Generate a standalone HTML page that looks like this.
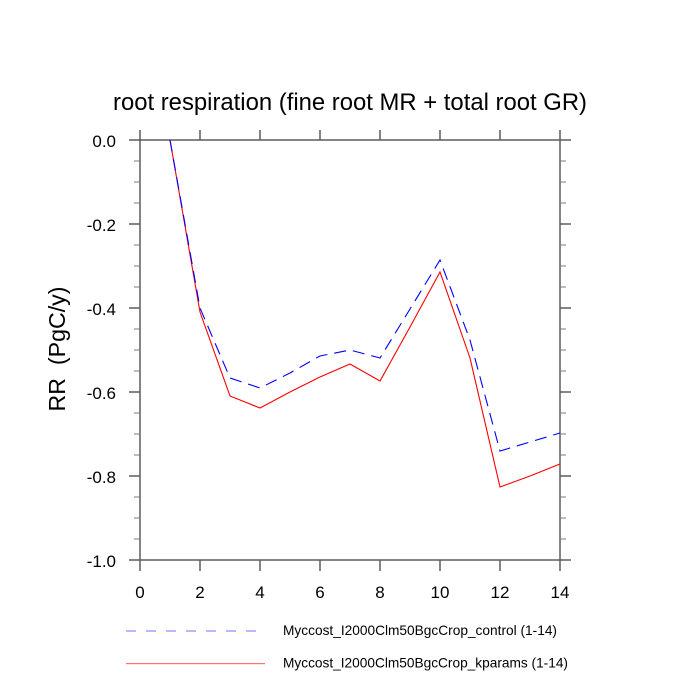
<!DOCTYPE html>
<html>
<head>
<meta charset="utf-8">
<style>
html,body{margin:0;padding:0;background:#fff;}
svg{display:block;}
text{font-family:"Liberation Sans",Arial,sans-serif;fill:#000;}
</style>
</head>
<body>
<svg width="700" height="700" viewBox="0 0 700 700" xmlns="http://www.w3.org/2000/svg">
<rect width="700" height="700" fill="#fff"/>
<!-- title -->
<text x="350" y="110" font-size="24" text-anchor="middle" textLength="474" lengthAdjust="spacingAndGlyphs">root respiration (fine root MR + total root GR)</text>
<!-- y label -->
<text transform="translate(65,349) rotate(-90)" font-size="23" text-anchor="middle" textLength="125" lengthAdjust="spacingAndGlyphs">RR&#160;&#160;(PgC/y)</text>

<g stroke="#5c5c5c" stroke-width="1.5" fill="none">
<rect x="140" y="140" width="420" height="420"/>
<path d="M140 560v11M200 560v11M260 560v11M320 560v11M380 560v11M440 560v11M500 560v11M560 560v11"/>
<path d="M140 140v-10M200 140v-10M260 140v-10M320 140v-10M380 140v-10M440 140v-10M500 140v-10M560 140v-10"/>
<path d="M140 140h-11M140 224h-11M140 308h-11M140 392h-11M140 476h-11M140 560h-11"/>
<path d="M560 140h11M560 224h11M560 308h11M560 392h11M560 476h11M560 560h11"/>
</g>
<g stroke="#7a7a7a" stroke-width="1" fill="none">
<path d="M140 161h-6M140 182h-6M140 203h-6M140 245h-6M140 266h-6M140 287h-6M140 329h-6M140 350h-6M140 371h-6M140 413h-6M140 434h-6M140 455h-6M140 497h-6M140 518h-6M140 539h-6"/>
<path d="M560 161h6M560 182h6M560 203h6M560 245h6M560 266h6M560 287h6M560 329h6M560 350h6M560 371h6M560 413h6M560 434h6M560 455h6M560 497h6M560 518h6M560 539h6"/>
</g>

<g font-size="17" text-anchor="end">
<text x="116" y="147">0.0</text>
<text x="116" y="231">-0.2</text>
<text x="116" y="315">-0.4</text>
<text x="116" y="399">-0.6</text>
<text x="116" y="483">-0.8</text>
<text x="116" y="567">-1.0</text>
</g>
<g font-size="17" text-anchor="middle">
<text x="140" y="598">0</text>
<text x="200" y="598">2</text>
<text x="260" y="598">4</text>
<text x="320" y="598">6</text>
<text x="380" y="598">8</text>
<text x="440" y="598">10</text>
<text x="500" y="598">12</text>
<text x="560" y="598">14</text>
</g>

<polyline fill="none" stroke="#ff0000" stroke-width="1.1" points="170,140 200,312 230,396 260,408 290,392 320,377 350,364 380,381 410,327 440,272 470,358 500,487 530,476 560,464"/>
<polyline fill="none" stroke="#0000ff" stroke-width="1.1" stroke-dasharray="12 7" points="170,140 200,308 230,378 260,388 290,373 320,356 350,350 380,358 410,309 440,260 470,340 500,451 530,442 560,433"/>

<!-- legend -->
<line x1="126" y1="631" x2="264" y2="631" stroke="#7070ff" stroke-width="1" stroke-dasharray="10 10"/>
<rect x="126" y="663" width="139" height="1.2" fill="#ff7070" stroke="none"/>
<text x="283" y="635" font-size="13.7" textLength="274" lengthAdjust="spacingAndGlyphs">Myccost_I2000Clm50BgcCrop_control (1-14)</text>
<text x="283" y="667.5" font-size="13.7" textLength="285" lengthAdjust="spacingAndGlyphs">Myccost_I2000Clm50BgcCrop_kparams (1-14)</text>
</svg>
</body>
</html>
